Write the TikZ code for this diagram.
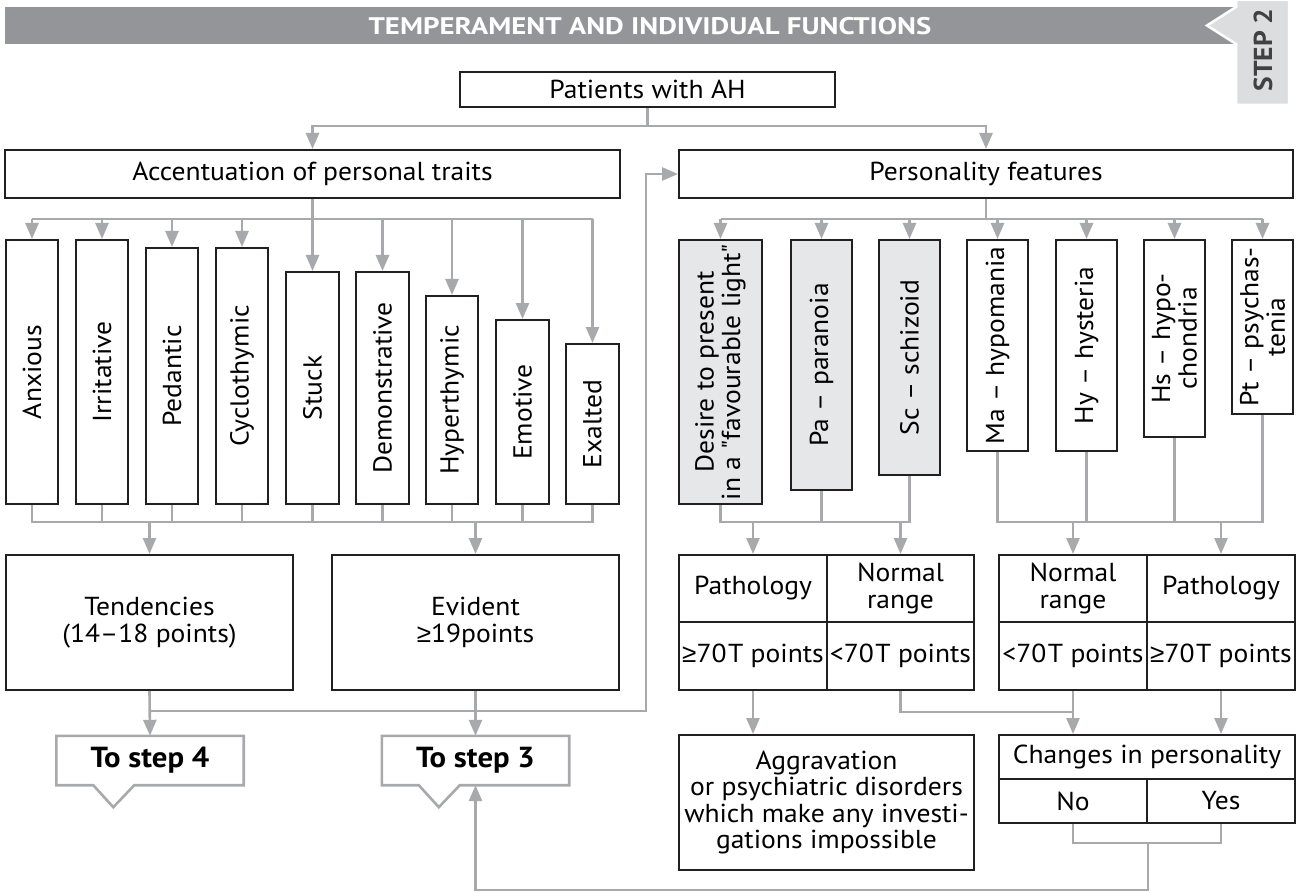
\documentclass[tikz,border=0pt]{standalone}
\usepackage{fontspec}
\setmainfont[FakeStretch=1.06]{PT Sans}
\newfontfamily\headfont[FakeStretch=1.2]{PT Sans}
\newfontfamily\plainfont[FakeStretch=1.06]{PT Sans}
\newfontfamily\symfont{Liberation Sans}
\newcommand\geqmark{{\symfont ≥}}
\newcommand\dq{{\plainfont "}}
\usetikzlibrary{arrows.meta,calc}

\definecolor{linegrey}{HTML}{A7A9AC}
\definecolor{ink}{HTML}{231F20}
\definecolor{barfill}{HTML}{939598}
\definecolor{tabfill}{HTML}{DCDDDE}
\definecolor{cellfill}{HTML}{E6E7E8}
\definecolor{tabtext}{HTML}{414042}

\tikzset{
  box/.style={draw=ink, line width=2pt, fill=white, inner sep=0pt, align=center,
    font=\fontsize{26}{26.5}\selectfont},
  upbox/.style={box, rotate=90},
  shaded/.style={fill=cellfill},
  conn/.style={draw=linegrey, line width=2.6pt},
  arr/.style={conn, -{Triangle[length=16pt,width=13pt]}},
  stepbox/.style={draw=none, fill=white, inner sep=0pt, minimum width=187pt,
    minimum height=49pt, font=\fontsize{29}{30}\selectfont\bfseries},
  stepline/.style={draw=linegrey, line width=2.6pt, line join=miter}
}

\begin{document}
\begin{tikzpicture}[x=1pt, y=-1pt]
\useasboundingbox (0,0) rectangle (1298,893);

% title bar and step tab
\fill[barfill] (5,7) rectangle (1240,44);
\node[text=white, font=\headfont\fontsize{24}{26}\selectfont\bfseries] (title) at (650,26.5) {TEMPERAMENT AND INDIVIDUAL FUNCTIONS};
\filldraw[fill=tabfill, draw=white, line width=2.5pt, line join=miter]
  (1236,0) -- (1289,0) -- (1289,105) -- (1236,105) -- (1236,44) -- (1207,25.5) -- (1236,7) -- cycle;
\node[rotate=90, text=tabtext, font=\plainfont\fontsize{26}{28}\selectfont\bfseries] (step) at (1263,50) {STEP 2};

% top of the tree
\node[box, minimum width=375pt, minimum height=35pt] (pat) at (647.5,89.5) {Patients with AH};
\node[box, minimum width=615pt, minimum height=48pt] (acc) at (312.5,174) {Accentuation of personal traits};
\node[box, minimum width=614pt, minimum height=48pt] (per) at (986,174) {Personality features};

\draw[conn] (pat.south) -- ++(0,18) coordinate (split);
\draw[arr] (split) -| (acc.north);
\draw[arr] (split) -| (per.north);

% accentuation types
\node[upbox, minimum width=264pt, minimum height=52pt] (anx) at (32,372) {Anxious};
\node[upbox, minimum width=264pt, minimum height=52pt] (irr) at (102,372) {Irritative};
\node[upbox, minimum width=256pt, minimum height=52pt] (ped) at (172,376) {Pedantic};
\node[upbox, minimum width=256pt, minimum height=52pt] (cyc) at (242,376) {Cyclothymic};
\node[upbox, minimum width=232pt, minimum height=53pt] (stu) at (312.5,388) {Stuck};
\node[upbox, minimum width=232pt, minimum height=53pt] (dem) at (382.5,388) {Demonstrative};
\node[upbox, minimum width=208pt, minimum height=52pt] (hyp) at (452,400) {Hyperthymic};
\node[upbox, minimum width=184pt, minimum height=53pt] (emo) at (522.5,412) {Emotive};
\node[upbox, minimum width=160pt, minimum height=53pt] (exa) at (592.5,424) {Exalted};

\coordinate (lbus) at (312.5,219);
\draw[conn] (anx.east |- lbus) -- (exa.east |- lbus);
\draw[arr] (acc.south) -- (stu.east);
\foreach \n in {anx,irr,ped,cyc,dem,hyp,emo,exa}
  \draw[arr] (\n.east |- lbus) -- (\n.east);

\coordinate (lbot) at (312.5,522);
\draw[conn] (anx.west) -- (anx.west |- lbot) -- (exa.west |- lbot) -- (exa.west);
\foreach \n in {irr,ped,cyc,stu,dem,hyp,emo}
  \draw[conn] (\n.west) -- (\n.west |- lbot);

\node[box, minimum width=287pt, minimum height=135pt] (ten) at (149.5,622.5) {Tendencies\\(14–18 points)};
\node[box, minimum width=287pt, minimum height=135pt] (evi) at (475.5,622.5) {Evident\\\geqmark19points};
\draw[arr] (ten.north |- lbot) -- (ten.north);
\draw[arr] (evi.north |- lbot) -- (evi.north);

% exits of step 2
\node[stepbox] (st4) at (150,760.5) {To step 4};
\node[stepbox] (st3) at (475.5,760.5) {To step 3};
\foreach \s in {st4,st3}
  \draw[stepline] (\s.south west) -- (\s.north west) -- (\s.north east) -- (\s.south east)
    -- ($(\s.south west)+(78,0)$) -- ($(\s.south west)+(57,22)$) -- ($(\s.south west)+(37,0)$) -- cycle;

\draw[arr] (ten.south) -- (st4.north);
\draw[arr] (evi.south) -- (st3.north);
\draw[arr] (ten.south) ++(0,20) -| ($(per.west)+(-32,0)$) -- (per.west);

% personality scales
\node[upbox, shaded, minimum width=264pt, minimum height=83pt] (des) at (720.5,372) {Desire to present\\in a \dq favourable light\dq};
\node[upbox, shaded, minimum width=250pt, minimum height=61pt] (pa) at (821.5,365) {Pa – paranoia};
\node[upbox, shaded, minimum width=235pt, minimum height=61pt] (sc) at (909.5,357.5) {Sc – schizoid};
\node[upbox, minimum width=211pt, minimum height=61pt] (ma) at (997.5,345.5) {Ma – hypomania};
\node[upbox, minimum width=211pt, minimum height=61pt] (hy) at (1086.5,345.5) {Hy – hysteria};
\node[upbox, minimum width=197pt, minimum height=61pt] (hs) at (1174.5,338.5) {Hs – hypo-\\chondria};
\node[upbox, minimum width=174pt, minimum height=61pt] (pt) at (1262.5,327) {Pt – psychas-\\tenia};

\coordinate (rbus) at (986,219);
\draw[conn] (per.south) -- (rbus);
\draw[conn] (des.east |- rbus) -- (pt.east |- rbus);
\foreach \n in {des,pa,sc,ma,hy,hs,pt}
  \draw[arr] (\n.east |- rbus) -- (\n.east);

\coordinate (rbot) at (986,522);
\draw[conn] (des.west) -- (des.west |- rbot) -- (sc.west |- rbot) -- (sc.west);
\draw[conn] (pa.west) -- (pa.west |- rbot);
\draw[conn] (ma.west) -- (ma.west |- rbot) -- (pt.west |- rbot) -- (pt.west);
\draw[conn] (hy.west) -- (hy.west |- rbot);
\draw[conn] (hs.west) -- (hs.west |- rbot);

% score tables
\node[box, minimum width=148pt, minimum height=67pt] (lpa) at (753,588.5) {Pathology};
\node[box, minimum width=147pt, minimum height=67pt] (lno) at (900.5,588.5) {Normal\\range};
\node[box, minimum width=148pt, minimum height=68pt] (lpv) at (753,656) {\geqmark70\kern1.5pt T points};
\node[box, minimum width=147pt, minimum height=68pt] (lnv) at (900.5,656) {<70\kern1.5pt T points};
\node[box, minimum width=148pt, minimum height=67pt] (rno) at (1073,588.5) {Normal\\range};
\node[box, minimum width=148pt, minimum height=67pt] (rpa) at (1221,588.5) {Pathology};
\node[box, minimum width=148pt, minimum height=68pt] (rnv) at (1073,656) {<70\kern1.5pt T points};
\node[box, minimum width=148pt, minimum height=68pt] (rpv) at (1221,656) {\geqmark70\kern1.5pt T points};

\foreach \n in {lpa,lno,rno,rpa}
  \draw[arr] (\n.north |- rbot) -- (\n.north);

% outcomes
\node[box, minimum width=295pt, minimum height=135pt] (agg) at (826.5,802.5)
  {Aggravation\\or psychiatric disorders\\which make any investi-\\gations impossible};
\node[box, minimum width=296pt, minimum height=44pt] (chg) at (1147,757) {Changes in personality};
\node[box, minimum width=148pt, minimum height=44pt] (no) at (1073,801) {No};
\node[box, minimum width=148pt, minimum height=44pt] (yes) at (1221,801) {Yes};

\draw[arr] (lpv.south) -- (lpv.south |- agg.north);
\draw[conn] (lnv.south) -- ++(0,21) -| (rnv.south);
\draw[arr] (rnv.south) -- (rnv.south |- chg.north);
\draw[arr] (rpv.south) -- (rpv.south |- chg.north);

\draw[conn] (no.south) -- ++(0,19) -| (yes.south);
\draw[arr] (no.south east) ++(0,19) -- ++(0,47) -| (st3.south);
\end{tikzpicture}
\end{document}
